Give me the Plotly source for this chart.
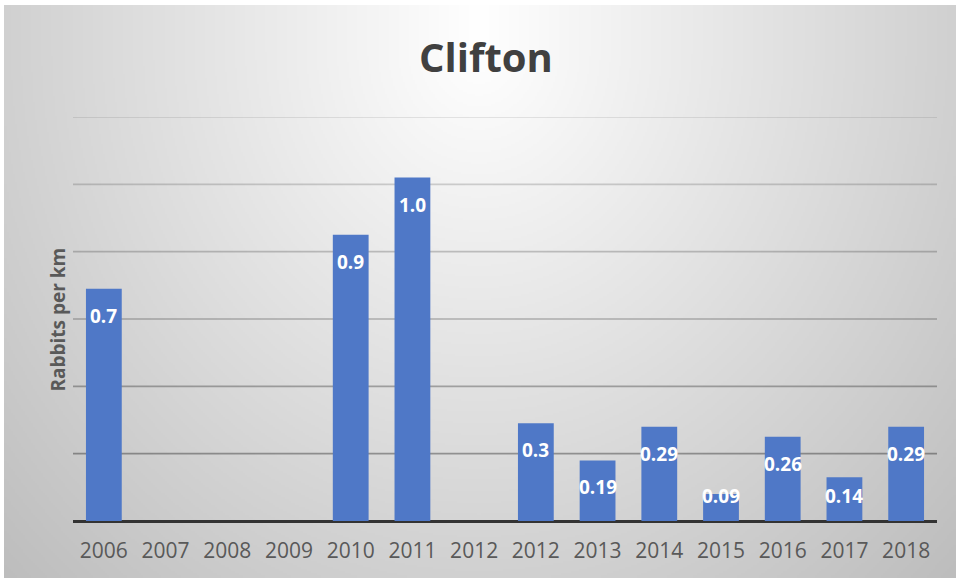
import base64, struct, zlib
import numpy as np
import plotly.graph_objects as go

# ---- data ----
categories = ["2006", "2007", "2008", "2009", "2010", "2011", "2012",
              "2012", "2013", "2014", "2015", "2016", "2017", "2018"]
values = [0.69, 0, 0, 0, 0.85, 1.02, 0, 0.29, 0.18, 0.28, 0.08, 0.25, 0.13, 0.28]
labels = ["0.7", "", "", "", "0.9", "1.0", "", "0.3", "0.19", "0.29", "0.09", "0.26", "0.14", "0.29"]
y_ticks = [0.2, 0.4, 0.6, 0.8, 1.0, 1.2]

W, H = 958, 581
ML, MR, MT, MB = 73, 21, 117, 60
PW, PH = W - ML - MR, H - MT - MB

# ---- background radial gradient as PNG ----
def png_gray(arr):
    h, w = arr.shape
    raw = b"".join(b"\x00" + arr[i].astype(np.uint8).tobytes() for i in range(h))
    def chunk(tag, data):
        return struct.pack(">I", len(data)) + tag + data + struct.pack(">I", zlib.crc32(tag + data) & 0xffffffff)
    return (b"\x89PNG\r\n\x1a\n" + chunk(b"IHDR", struct.pack(">IIBBBBB", w, h, 8, 0, 0, 0, 0))
            + chunk(b"IDAT", zlib.compress(raw, 9)) + chunk(b"IEND", b""))

bx0, by0, bx1, by1 = 4, 5, 956, 578
gw, gh = 476, 287
xs = np.linspace(bx0, bx1, gw)
ys = np.linspace(by0, by1, gh)
X, Y = np.meshgrid(xs, ys)
dx = (X - 479) / 480 * 47
dy = np.clip(Y - 50, 0, None) / 500 * 44
grad = 255 - np.sqrt(dx ** 2 + dy ** 2)
grad = np.clip(grad, 0, 255)
src = "data:image/png;base64," + base64.b64encode(png_gray(grad)).decode()

x_idx = list(range(len(categories)))

fig = go.Figure()
fig.add_trace(go.Bar(
    x=x_idx, y=values,
    marker=dict(color="#4f78c7", line=dict(width=0)),
    width=0.58, hoverinfo="skip",
))

# data labels (inside end, kept off the axis for short bars)
for xi, v, t in zip(x_idx, values, labels):
    if t:
        fig.add_annotation(x=xi, y=max(v - 0.08, 0.074), text=t, showarrow=False,
                           font=dict(family="Open Sans", size=19, color="white", weight="bold"),
                           xanchor="center", yanchor="middle")

# gridlines (fading toward the top)
n = len(y_ticks)
for i, yt in enumerate(y_ticks):
    a = 0.34 - 0.22 * i / (n - 1)
    fig.add_shape(type="line", xref="paper", yref="y", x0=0, x1=1, y0=yt, y1=yt,
                  line=dict(color=f"rgba(0,0,0,{a:.3f})", width=1.6), layer="below")

# y-axis title
fig.add_annotation(xref="paper", yref="paper", x=(57 - ML) / PW, y=(520.5 - 319) / PH,
                   text="Rabbits per km", textangle=-90, showarrow=False,
                   font=dict(family="Open Sans", size=19, color="#595959", weight="bold"),
                   xanchor="center", yanchor="middle")

fig.add_layout_image(dict(
    source=src, xref="paper", yref="paper",
    x=(bx0 - ML) / PW, y=1 + (MT - by0) / PH,
    sizex=(bx1 - bx0) / PW, sizey=(by1 - by0) / PH,
    xanchor="left", yanchor="top", sizing="stretch", layer="below",
))

fig.update_layout(
    width=W, height=H,
    margin=dict(l=ML, r=MR, t=MT, b=MB),
    paper_bgcolor="white", plot_bgcolor="rgba(0,0,0,0)",
    showlegend=False,
    title=dict(text="Clifton", x=486 / W, xanchor="center", y=1 - 58 / H, yanchor="middle",
               font=dict(family="Open Sans", size=40, color="#404040", weight="bold")),
    xaxis=dict(tickvals=x_idx, ticktext=categories, range=[-0.5, len(categories) - 0.5],
               showgrid=False, ticks="", zeroline=False, showline=False,
               tickfont=dict(family="Open Sans", size=21, color="#595959"),
               ticklabelstandoff=15),
    yaxis=dict(range=[0, 1.2], showticklabels=False, showgrid=False,
               zeroline=True, zerolinecolor="#333333", zerolinewidth=2.5, ticks=""),
)

fig.write_html("out.html")
